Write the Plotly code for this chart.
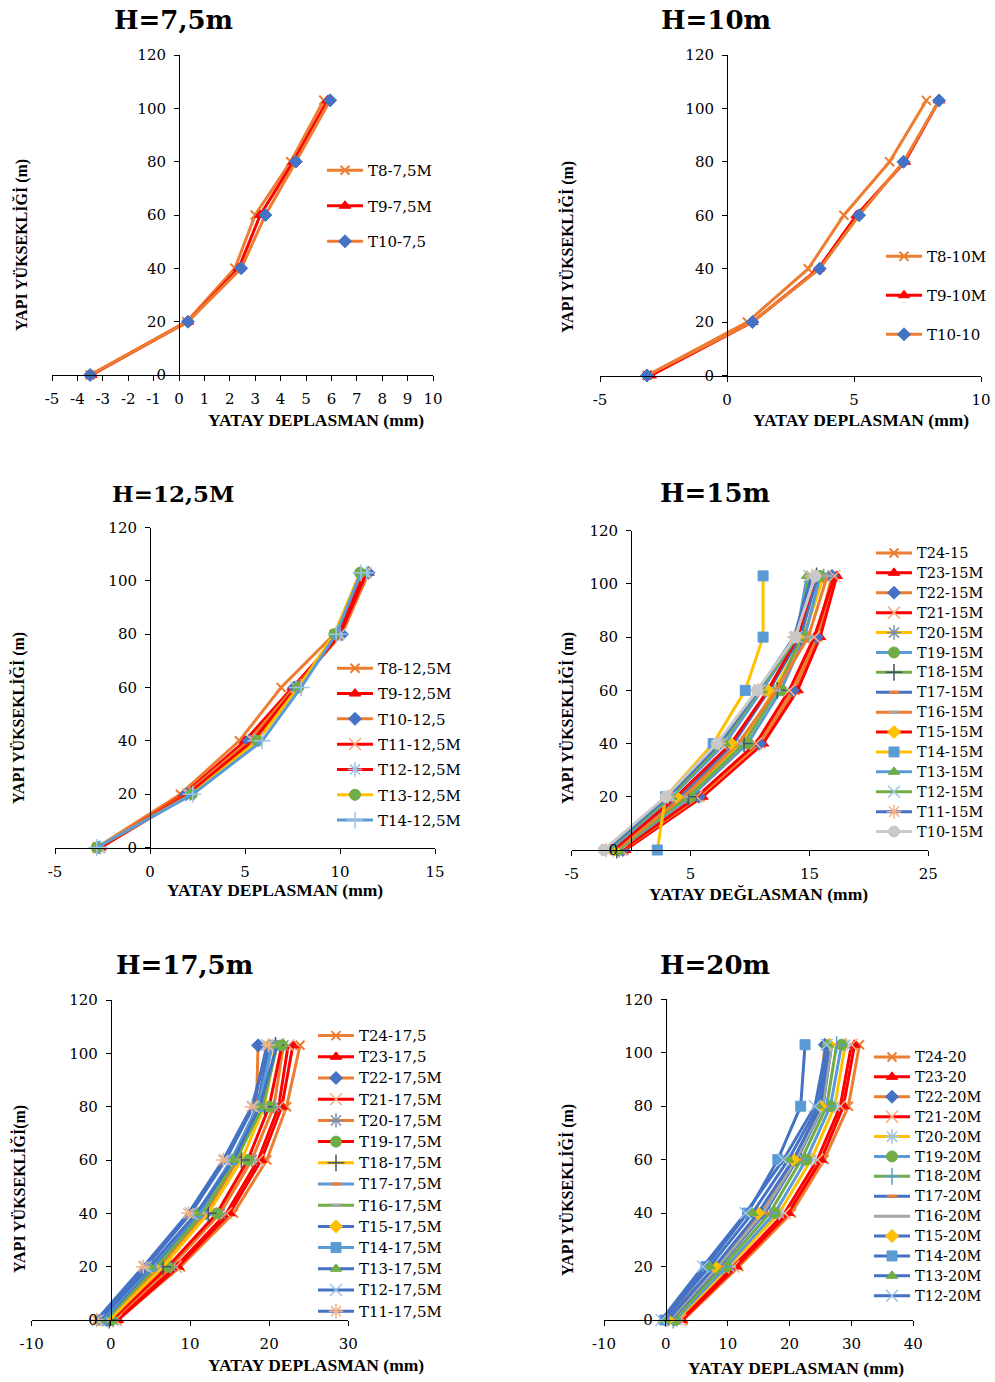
import plotly.graph_objects as go

W, H = 995, 1382

# storey levels (m) shared by every profile
HEIGHTS = [0, 20, 40, 60, 80, 103]
Y_TICKS = [0, 20, 40, 60, 80, 100, 120]

# ---- H=7,5m
h75_names = ["T8-7,5M", "T9-7,5M", "T10-7,5"]
h75_values = [
    [-3.5, 0.3, 2.2, 3.0, 4.4, 5.7],
    [-3.45, 0.35, 2.35, 3.2, 4.5, 5.85],
    [-3.5, 0.35, 2.45, 3.4, 4.6, 5.95],
]
h75_xticks = [-5, -4, -3, -2, -1, 0, 1, 2, 3, 4, 5, 6, 7, 8, 9, 10]

# ---- H=10m
h10_names = ["T8-10M", "T9-10M", "T10-10"]
h10_values = [
    [-3.15, 0.8, 3.2, 4.6, 6.4, 7.85],
    [-3.0, 1.0, 3.6, 5.1, 7.0, 8.35],
    [-3.15, 1.0, 3.65, 5.2, 6.95, 8.35],
]
h10_xticks = [-5, 0, 5, 10]

# ---- H=12,5M
h125_names = ["T8-12,5M", "T9-12,5M", "T10-12,5", "T11-12,5M",
              "T12-12,5M", "T13-12,5M", "T14-12,5M"]
h125_values = [
    [-2.8, 1.6, 4.7, 6.9, 9.7, 11.3],
    [-2.6, 1.8, 5.0, 7.5, 10.0, 11.5],
    [-2.7, 1.9, 5.2, 7.6, 10.1, 11.5],
    [-2.7, 2.0, 5.4, 7.7, 9.9, 11.3],
    [-2.6, 2.1, 5.5, 7.7, 10.0, 11.4],
    [-2.8, 2.2, 5.65, 7.8, 9.7, 11.05],
    [-2.8, 2.25, 5.9, 7.95, 9.8, 11.1],
]
h125_xticks = [-5, 0, 5, 10, 15]

# ---- H=15m
h15_names = ["T24-15", "T23-15M", "T22-15M", "T21-15M", "T20-15M",
             "T19-15M", "T18-15M", "T17-15M", "T16-15M", "T15-15M",
             "T14-15M", "T13-15M", "T12-15M", "T11-15M", "T10-15M"]
h15_values = [
    [-0.6, 5.8, 10.9, 13.8, 15.7, 17.0],
    [-0.5, 6.0, 11.1, 14.0, 15.9, 17.3],
    [-0.7, 5.7, 10.8, 13.6, 15.6, 16.9],
    [-0.8, 5.5, 10.5, 13.3, 15.4, 17.1],
    [-1.0, 4.6, 9.3, 12.0, 14.5, 16.2],
    [-1.1, 5.0, 9.8, 12.6, 14.6, 15.9],
    [-1.2, 4.8, 9.5, 12.3, 14.3, 15.6],
    [-1.4, 4.2, 8.6, 11.6, 14.2, 15.7],
    [-1.3, 4.4, 9.0, 12.2, 14.9, 16.5],
    [-1.5, 3.8, 8.4, 11.5, 14.0, 15.5],
    [2.2, 2.9, 6.9, 9.6, 11.1, 11.1],
    [-1.8, 3.4, 7.9, 11.0, 13.9, 14.8],
    [-2.0, 3.3, 7.6, 10.8, 13.9, 15.0],
    [-2.1, 3.1, 7.4, 10.7, 13.7, 15.2],
    [-2.3, 2.9, 7.2, 10.6, 13.8, 15.5],
]
h15_xticks = [-5, 5, 15, 25]

# ---- H=17,5m
h175_names = ["T24-17,5", "T23-17,5", "T22-17,5M", "T21-17,5M", "T20-17,5M",
              "T19-17,5M", "T18-17,5M", "T17-17,5M", "T16-17,5M", "T15-17,5M",
              "T14-17,5M", "T13-17,5M", "T12-17,5M", "T11-17,5M"]
h175_values = [
    [0.8, 8.8, 15.5, 19.7, 22.2, 23.9],
    [0.9, 8.5, 15.0, 19.0, 21.6, 23.0],
    [-0.5, 6.2, 12.0, 16.0, 18.4, 18.6],
    [0.6, 8.2, 14.6, 18.6, 21.2, 22.4],
    [0.3, 7.6, 13.8, 17.8, 20.6, 21.8],
    [0.1, 7.2, 13.4, 17.3, 20.0, 21.6],
    [-0.2, 6.6, 12.3, 16.5, 19.4, 20.8],
    [-0.6, 5.6, 11.4, 15.6, 18.9, 20.3],
    [-0.8, 5.8, 11.6, 15.8, 19.2, 21.0],
    [-1.0, 5.3, 11.0, 15.3, 18.5, 20.0],
    [-1.2, 5.1, 10.9, 15.2, 18.6, 20.4],
    [-1.4, 4.9, 10.8, 15.5, 18.8, 21.0],
    [-1.6, 4.4, 10.1, 14.5, 18.0, 19.7],
    [-1.8, 4.1, 9.8, 14.2, 17.8, 19.9],
]
h175_xticks = [-10, 0, 10, 20, 30]

# ---- H=20m
h20_names = ["T24-20", "T23-20", "T22-20M", "T21-20M", "T20-20M", "T19-20M",
             "T18-20M", "T17-20M", "T16-20M", "T15-20M", "T14-20M",
             "T13-20M", "T12-20M"]
h20_values = [
    [2.8, 11.8, 20.3, 25.6, 29.5, 31.3],
    [2.6, 11.4, 19.8, 25.1, 28.7, 30.5],
    [0.0, 8.0, 15.5, 21.0, 24.8, 25.7],
    [2.3, 10.9, 19.2, 24.5, 28.2, 30.0],
    [1.8, 10.2, 18.3, 23.5, 27.3, 29.0],
    [1.5, 9.8, 17.6, 22.7, 26.6, 28.4],
    [1.2, 9.2, 16.8, 21.9, 26.0, 27.6],
    [0.8, 8.6, 16.0, 21.2, 25.4, 26.8],
    [0.6, 8.4, 15.7, 21.0, 25.3, 26.8],
    [0.3, 7.9, 14.9, 20.6, 25.0, 26.4],
    [-0.2, 6.5, 13.2, 18.1, 21.8, 22.5],
    [-0.4, 7.1, 14.0, 19.8, 24.6, 26.2],
    [-0.7, 6.0, 12.9, 19.0, 24.1, 26.0],
]
h20_xticks = [-10, 0, 10, 20, 30, 40]

# ---- colours
ORANGE = "#ED7D31"
RED = "#FF0000"
BLUE = "#4472C4"
GOLD = "#FFC000"
LBLUE = "#5B9BD5"
GREEN = "#70AD47"
GRAY = "#A5A5A5"
LGRAY = "#C9C9C9"
PEACH = "#F4B183"
PALEBLUE = "#9DC3E6"
SLATE = "#7F8FA9"
NAVY = "#44546A"

# marker presets: (symbol, colour, size, stroke width)
M_X = ("x-thin-open", ORANGE, 9, 2)
M_TRI = ("triangle-up", RED, 10, 1)
M_DIA = ("diamond", BLUE, 10, 1)
M_XPEACH = ("x-thin-open", PEACH, 12, 1.5)
M_XPALE = ("x-thin-open", PALEBLUE, 12, 1.5)
M_AST_PALE = ("asterisk-open", PALEBLUE, 12, 1.5)
M_AST_SLATE = ("asterisk-open", SLATE, 12, 1.5)
M_AST_PEACH = ("asterisk-open", PEACH, 12, 1.5)
M_CIRC = ("circle", GREEN, 11, 1)
M_PLUS_NAVY = ("cross-thin-open", NAVY, 12, 1.5)
M_PLUS_BLUE = ("cross-thin-open", LBLUE, 12, 1.5)
M_PLUS_PALE = ("cross-thin-open", PALEBLUE, 12, 1.5)
M_DASH_OR = ("line-ew-open", ORANGE, 7, 3)
M_DASH_GR = ("line-ew-open", GRAY, 7, 3)
M_DIA_Y = ("diamond", GOLD, 10, 1)
M_SQ = ("square", LBLUE, 10, 1)
M_TRI_G = ("triangle-up", GREEN, 10, 1)
M_CIRC_G = ("circle", LGRAY, 11, 1)
M_NONE = None

h75_style = [(ORANGE, M_X), (RED, M_TRI), (ORANGE, M_DIA)]
h10_style = h75_style
h125_style = [(ORANGE, M_X), (RED, M_TRI), (ORANGE, M_DIA), (RED, M_XPEACH),
              (RED, M_AST_PALE), (GOLD, M_CIRC), (LBLUE, M_PLUS_PALE)]
h15_style = [(ORANGE, M_X), (RED, M_TRI), (ORANGE, M_DIA), (RED, M_XPEACH),
             (GOLD, M_AST_SLATE), (LBLUE, M_CIRC), (GREEN, M_PLUS_NAVY),
             (BLUE, M_DASH_OR), (ORANGE, M_DASH_GR), (RED, M_DIA_Y),
             (GOLD, M_SQ), (LBLUE, M_TRI_G), (GREEN, M_XPALE),
             (BLUE, M_AST_PEACH), (LGRAY, M_CIRC_G)]
h175_style = [(ORANGE, M_X), (RED, M_TRI), (ORANGE, M_DIA), (RED, M_XPEACH),
              (ORANGE, M_AST_SLATE), (RED, M_CIRC), (GOLD, M_PLUS_NAVY),
              (LBLUE, M_DASH_OR), (GREEN, M_DASH_GR), (BLUE, M_DIA_Y),
              (LBLUE, M_SQ), (BLUE, M_TRI_G), (BLUE, M_XPALE),
              (BLUE, M_AST_PEACH)]
h20_style = [(ORANGE, M_X), (RED, M_TRI), (ORANGE, M_DIA), (RED, M_XPEACH),
             (GOLD, M_AST_PALE), (LBLUE, M_CIRC), (GREEN, M_PLUS_BLUE),
             (BLUE, M_DASH_OR), (GRAY, M_NONE), (BLUE, M_DIA_Y),
             (BLUE, M_SQ), (BLUE, M_TRI_G), (BLUE, M_XPALE)]

SERIF = "DejaVu Serif"
BOLD_SERIF = "Liberation Serif"

# panel frames in pixels: left, right, top, bottom, x-range
# legend: size sets the row pitch, text is the rendered label size
panels = [
    dict(title="H=7,5m", tsize=26, names=h75_names, values=h75_values, style=h75_style,
         box=(52, 433, 55, 375), xr=(-5, 10), xticks=h75_xticks,
         xtitle="YATAY DEPLASMAN (mm)", xt=(316, 420),
         ytitle="YAPI YÜKSEKLİĞİ (m)", yt=(21, 245), tt=(173, 20),
         leg=dict(x=322, y=154, size=15, text=15, gap=13)),
    dict(title="H=10m", tsize=26, names=h10_names, values=h10_values, style=h10_style,
         box=(600, 981, 55, 375.5), xr=(-5, 10), xticks=h10_xticks,
         xtitle="YATAY DEPLASMAN (mm)", xt=(861, 420),
         ytitle="YAPI YÜKSEKLİĞİ (m)", yt=(567, 247), tt=(716, 20),
         leg=dict(x=881, y=240, size=15, text=15, gap=16.5)),
    dict(title="H=12,5M", tsize=23, names=h125_names, values=h125_values, style=h125_style,
         box=(55, 435, 527.5, 847.5), xr=(-5, 15), xticks=h125_xticks,
         xtitle="YATAY DEPLASMAN (mm)", xt=(275, 890),
         ytitle="YAPI YÜKSEKLİĞİ (m)", yt=(18, 718), tt=(173, 493),
         leg=dict(x=332, y=652, size=15, text=15, gap=2.8)),
    dict(title="H=15m", tsize=26, names=h15_names, values=h15_values, style=h15_style,
         box=(571.7, 928.3, 530.7, 850), xr=(-5, 25), xticks=h15_xticks,
         xtitle="YATAY DEĞLASMAN (mm)", xt=(758, 894),
         ytitle="YAPI YÜKSEKLİĞİ (m)", yt=(567, 718), tt=(715, 493),
         leg=dict(x=871, y=538, size=13, text=14.5, gap=0)),
    dict(title="H=17,5m", tsize=26, names=h175_names, values=h175_values, style=h175_style,
         box=(31.7, 348.3, 1000, 1320), xr=(-10, 30), xticks=h175_xticks,
         xtitle="YATAY DEPLASMAN (mm)", xt=(316, 1365),
         ytitle="YAPI YÜKSEKLİĞİ(m)", yt=(19, 1189), tt=(184, 965),
         leg=dict(x=313, y=1020, size=14, text=15, gap=0)),
    dict(title="H=20m", tsize=26, names=h20_names, values=h20_values, style=h20_style,
         box=(604, 913.3, 999.3, 1320), xr=(-10, 40), xticks=h20_xticks,
         xtitle="YATAY DEPLASMAN (mm)", xt=(796, 1368),
         ytitle="YAPI YÜKSEKLİĞİ (m)", yt=(567, 1190), tt=(715, 965),
         leg=dict(x=869, y=1042, size=13, text=14.5, gap=0)),
]


def px_x(v):
    return v / W


def px_y(v):
    return 1 - v / H


def label(v):
    # plain hyphen for negative numbers
    return str(v)


fig = go.Figure()
layout = dict(
    width=W, height=H, margin=dict(l=0, r=0, t=0, b=0, autoexpand=False),
    paper_bgcolor="white", plot_bgcolor="rgba(0,0,0,0)",
    showlegend=True, annotations=[],
)

for k, p in enumerate(panels, start=1):
    sfx = "" if k == 1 else str(k)
    xa, ya, lg = "x" + sfx, "y" + sfx, "legend" + sfx
    left, right, top, bottom = p["box"]
    x0, x1 = p["xr"]
    zero_px = left + (0 - x0) / (x1 - x0) * (right - left)
    L = p["leg"]

    for i, (name, vals, (lc, mk)) in enumerate(zip(p["names"], p["values"], p["style"])):
        if mk is None:
            mode, marker = "lines", dict()
        else:
            sym, mc, ms, mw = mk
            mode = "lines+markers"
            marker = dict(symbol=sym, color=mc, size=ms, line=dict(color=mc, width=mw))
        shown = name if L["text"] == L["size"] else \
            f"<span style='font-size:{L['text']}px'>{name}</span>"
        fig.add_trace(go.Scatter(
            x=vals, y=HEIGHTS, name=shown, mode=mode,
            line=dict(color=lc, width=3), marker=marker,
            xaxis=xa, yaxis=ya, legend=lg, legendgroup=f"{k}-{i}",
            cliponaxis=False, hoverinfo="skip",
        ))

    layout["xaxis" + sfx] = dict(
        domain=[px_x(left), px_x(right)], range=[x0, x1], anchor=ya,
        tickmode="array", tickvals=p["xticks"],
        ticktext=[label(v) for v in p["xticks"]],
        showline=True, linecolor="black", linewidth=1,
        ticks="outside", ticklen=5, tickcolor="black", ticklabelstandoff=5,
        showgrid=False, zeroline=False, automargin=False,
        tickfont=dict(family=SERIF, size=15, color="black"),
    )
    layout["yaxis" + sfx] = dict(
        domain=[px_y(bottom), px_y(top)], range=[0, 120], anchor="free",
        position=px_x(zero_px), tickmode="array", tickvals=Y_TICKS,
        ticktext=[label(v) for v in Y_TICKS], showline=True, linecolor="black",
        linewidth=1, ticks="outside", ticklen=5, tickcolor="black",
        ticklabelstandoff=5, showgrid=False, zeroline=False, automargin=False,
        tickfont=dict(family=SERIF, size=15, color="black"),
    )
    layout[lg] = dict(
        x=px_x(L["x"]), y=px_y(L["y"]), xref="container", yref="container",
        xanchor="left", yanchor="top",
        bgcolor="rgba(0,0,0,0)", borderwidth=0, tracegroupgap=L["gap"],
        font=dict(family=SERIF, size=L["size"], color="black"),
        itemwidth=36, traceorder="grouped",
    )

    layout["annotations"] += [
        dict(text=f"<b>{p['title']}</b>", x=px_x(p["tt"][0]), y=px_y(p["tt"][1]),
             xref="paper", yref="paper", showarrow=False, xanchor="center",
             yanchor="middle", font=dict(family=SERIF, size=p["tsize"], color="black")),
        dict(text=f"<b>{p['xtitle']}</b>", x=px_x(p["xt"][0]), y=px_y(p["xt"][1]),
             xref="paper", yref="paper", showarrow=False, xanchor="center",
             yanchor="middle", font=dict(family=BOLD_SERIF, size=17.5, color="black")),
        dict(text=f"<b>{p['ytitle']}</b>", x=px_x(p["yt"][0]), y=px_y(p["yt"][1]),
             xref="paper", yref="paper", showarrow=False, xanchor="center",
             yanchor="middle", textangle=-90,
             font=dict(family=BOLD_SERIF, size=16, color="black")),
    ]

fig.update_layout(**layout)
fig.write_html("out.html")
